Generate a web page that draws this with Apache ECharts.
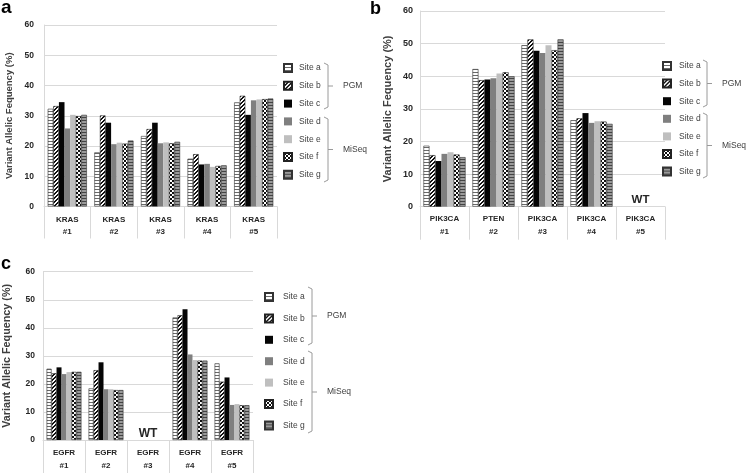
<!DOCTYPE html>
<html><head><meta charset="utf-8">
<script src="https://cdn.jsdelivr.net/npm/echarts@6/dist/echarts.min.js"></script>
<style>html,body{margin:0;padding:0;background:#fff}#c{width:746px;height:475px}</style>
</head><body><div id="c"></div>
<script>
// ---------- data ----------
const siteNames = ['Site a','Site b','Site c','Site d','Site e','Site f','Site g'];
const yTicks = [0,10,20,30,40,50,60];
const axisTitle = 'Variant Allelic Fequency (%)';
const groupLabels = ['PGM','MiSeq'];

// panel a
const catsA = ['KRAS\n#1','KRAS\n#2','KRAS\n#3','KRAS\n#4','KRAS\n#5'];
const a_siteA = [32.3, 17.9, 23.3, 15.8, 34.4];
const a_siteB = [33.2, 30.1, 25.6, 17.3, 36.6];
const a_siteC = [34.5, 27.7, 27.7, 13.9, 30.3];
const a_siteD = [25.8, 20.6, 20.9, 14.1, 35.1];
const a_siteE = [30.3, 21.1, 21.2, 13.1, 35.4];
const a_siteF = [29.9, 20.8, 20.9, 13.4, 35.5];
const a_siteG = [30.3, 21.8, 21.4, 13.6, 35.7];
const wtA = [];

// panel b
const catsB = ['PIK3CA\n#1','PTEN\n#2','PIK3CA\n#3','PIK3CA\n#4','PIK3CA\n#5'];
const b_siteA = [18.7, 42.2, 49.5, 26.5, null];
const b_siteB = [15.8, 38.8, 51.3, 27.1, null];
const b_siteC = [14.0, 39.0, 47.8, 28.7, null];
const b_siteD = [16.2, 39.4, 47.1, 25.7, null];
const b_siteE = [16.7, 40.8, 49.5, 26.2, null];
const b_siteF = [16.0, 41.2, 48.0, 26.1, null];
const b_siteG = [15.2, 40.0, 51.3, 25.4, null];
const wtB = ['PIK3CA\n#5'];

// panel c
const catsC = ['EGFR\n#1','EGFR\n#2','EGFR\n#3','EGFR\n#4','EGFR\n#5'];
const c_siteA = [25.4, 18.4, null, 43.7, 27.3];
const c_siteB = [23.8, 24.9, null, 44.5, 20.8];
const c_siteC = [25.9, 27.7, null, 46.6, 22.3];
const c_siteD = [23.5, 18.1, null, 30.5, 12.5];
const c_siteE = [24.2, 18.1, null, 28.5, 12.8];
const c_siteF = [24.3, 17.8, null, 28.3, 12.4];
const c_siteG = [24.3, 17.8, null, 28.3, 12.4];
const wtC = ['EGFR\n#3'];

// ---------- styles ----------
function tile(w, h, fn) {
  const cv = document.createElement('canvas');
  cv.width = w; cv.height = h;
  const g = cv.getContext('2d');
  fn(g);
  return {image: cv, repeat: 'repeat'};
}
const fillA = tile(1, 3, g => { g.fillStyle = '#fff'; g.fillRect(0,0,1,3); g.fillStyle = '#6a6a6a'; g.fillRect(0,0,1,1); });
const fillB = tile(4, 4, g => { g.fillStyle = '#fff'; g.fillRect(0,0,4,4); g.fillStyle = '#111';
  for (let i = 0; i < 4; i++) { g.fillRect(i, (3 - i + 4) % 4, 1, 1); g.fillRect(i, (4 - i) % 4, 1, 1); } });
const fillF = tile(4, 4, g => { g.fillStyle = '#fff'; g.fillRect(0,0,4,4); g.fillStyle = '#111'; g.fillRect(0,0,2,2); g.fillRect(2,2,2,2); });
const fillG = tile(1, 3, g => { g.fillStyle = '#9a9a9a'; g.fillRect(0,0,1,3); g.fillStyle = '#444'; g.fillRect(0,0,1,1); });
const siteStyles = [
  {color: fillA, borderColor: '#333', borderWidth: 0.6},
  {color: fillB, borderColor: '#222', borderWidth: 0.6},
  {color: '#050505'},
  {color: '#7f7f7f'},
  {color: '#bfbfbf'},
  {color: fillF, borderColor: '#222', borderWidth: 0.6},
  {color: fillG, borderColor: '#333', borderWidth: 0.6}
];

const panels = [
  {cats: catsA, vals: [a_siteA,a_siteB,a_siteC,a_siteD,a_siteE,a_siteF,a_siteG], wt: wtA,
   grid: {left: 44, top: 25, width: 233, height: 181.5}, gap: '16%',
   yFont: 8.5, yMargin: 10, nameFont: 9.5, nameGap: 30, xFont: 8, xMargin: 7, xLH: 12.5, tickLen: 32, wtFont: 12,
   legend: {left: 283, top: 63, itemGap: 7.8, pad: 2},
   letter: {text: 'a', left: 1, top: -2, size: 19},
   brX: 328, pgm: [63, 109], miseq: [117, 182], labelX: 343},
  {cats: catsB, vals: [b_siteA,b_siteB,b_siteC,b_siteD,b_siteE,b_siteF,b_siteG], wt: wtB,
   grid: {left: 420, top: 11, width: 245, height: 195.7}, gap: '14%',
   yFont: 9, yMargin: 7, nameFont: 11, nameGap: 27, xFont: 8, xMargin: 6, xLH: 13, tickLen: 33, wtFont: 11.5,
   legend: {left: 662, top: 61, itemGap: 7.6, pad: 3},
   letter: {text: 'b', left: 370, top: 0, size: 18},
   brX: 707, pgm: [60, 107], miseq: [113, 178], labelX: 722},
  {cats: catsC, vals: [c_siteA,c_siteB,c_siteC,c_siteD,c_siteE,c_siteF,c_siteG], wt: wtC,
   grid: {left: 43, top: 271.7, width: 210, height: 168.3}, gap: '17%',
   yFont: 8.5, yMargin: 8, nameFont: 10.8, nameGap: 30, xFont: 8, xMargin: 6.5, xLH: 13, tickLen: 33, wtFont: 12,
   legend: {left: 264, top: 292, itemGap: 11.4, pad: 5},
   letter: {text: 'c', left: 1, top: 255, size: 18},
   brX: 312, pgm: [287, 345], miseq: [351, 433], labelX: 327}
];

const grid = [], xAxis = [], yAxis = [], series = [], legend = [], title = [], graphic = [];
const gridColor = '#d9d9d9';
panels.forEach((p, i) => {
  grid.push(Object.assign({containLabel: false}, p.grid));
  xAxis.push({
    type: 'category', gridIndex: i, data: p.cats, boundaryGap: true,
    axisLine: {show: true, lineStyle: {color: gridColor, width: 1}},
    axisTick: {show: true, interval: 0, length: p.tickLen, lineStyle: {color: gridColor}},
    axisLabel: {interval: 0, fontFamily: 'Liberation Sans', fontWeight: 'bold', fontSize: p.xFont,
      color: '#262626', lineHeight: p.xLH, margin: p.xMargin}
  });
  yAxis.push({
    type: 'value', gridIndex: i, min: yTicks[0], max: yTicks[yTicks.length - 1], interval: yTicks[1] - yTicks[0],
    axisLine: {show: true, lineStyle: {color: gridColor}},
    axisTick: {show: false},
    splitLine: {show: true, lineStyle: {color: gridColor}},
    axisLabel: {fontFamily: 'Liberation Sans', fontWeight: 'bold', fontSize: p.yFont, color: '#262626', margin: p.yMargin},
    name: axisTitle, nameLocation: 'middle', nameGap: p.nameGap, nameRotate: 90,
    nameTextStyle: {fontFamily: 'Liberation Sans', fontWeight: 'bold', fontSize: p.nameFont, color: '#404040'}
  });
  p.vals.forEach((v, k) => {
    const s = {
      name: siteNames[k], type: 'bar', xAxisIndex: i, yAxisIndex: i, data: v,
      barGap: 0, barCategoryGap: p.gap, itemStyle: siteStyles[k], silent: true, animation: false
    };
    if (k === 3 && p.wt.length) {
      s.markPoint = {
        symbol: 'rect', symbolSize: 1, silent: true, itemStyle: {color: 'rgba(0,0,0,0)'},
        label: {show: true, position: 'top', distance: 0, formatter: 'WT', fontFamily: 'Liberation Sans',
          fontWeight: 'bold', fontSize: p.wtFont, color: '#262626'},
        data: p.wt.map(c => ({coord: [c, 0]}))
      };
    }
    series.push(s);
  });
  legend.push({
    orient: 'vertical', left: p.legend.left, top: p.legend.top, itemGap: p.legend.itemGap, padding: 0,
    itemWidth: 8, itemHeight: 8, icon: 'rect', data: siteNames, selectedMode: false,
    textStyle: {fontFamily: 'Liberation Sans', fontSize: 8.5, color: '#404040', lineHeight: 10, padding: [0,0,0,p.legend.pad]}
  });
  title.push({text: p.letter.text, left: p.letter.left, top: p.letter.top, padding: 0,
    textStyle: {fontFamily: 'Liberation Sans', fontWeight: 'bold', fontSize: p.letter.size, color: '#000'}});
  const br = (y0, y1) => ({type: 'polyline', silent: true,
    shape: {points: [[p.brX - 4, y0], [p.brX, y0 + 2], [p.brX, y1 - 2], [p.brX - 4, y1]]},
    style: {stroke: '#9a9a9a', lineWidth: 1, fill: null}});
  const tick = (y0, y1) => ({type: 'line', silent: true,
    shape: {x1: p.brX, y1: (y0 + y1) / 2, x2: p.brX + 5, y2: (y0 + y1) / 2},
    style: {stroke: '#9a9a9a', lineWidth: 1}});
  const lab = (txt, y0, y1) => ({type: 'text', silent: true, x: p.labelX, y: (y0 + y1) / 2,
    style: {text: txt, fontFamily: 'Liberation Sans', fontSize: 8.5, fill: '#404040', verticalAlign: 'middle', align: 'left'}});
  graphic.push(br(p.pgm[0], p.pgm[1]), tick(p.pgm[0], p.pgm[1]), lab(groupLabels[0], p.pgm[0], p.pgm[1]));
  graphic.push(br(p.miseq[0], p.miseq[1]), tick(p.miseq[0], p.miseq[1]), lab(groupLabels[1], p.miseq[0], p.miseq[1]));
});

const chart = echarts.init(document.getElementById('c'), null, {renderer: 'canvas'});
chart.setOption({animation: false, backgroundColor: '#fff', grid, xAxis, yAxis, series, legend, title, graphic});
</script></body></html>
